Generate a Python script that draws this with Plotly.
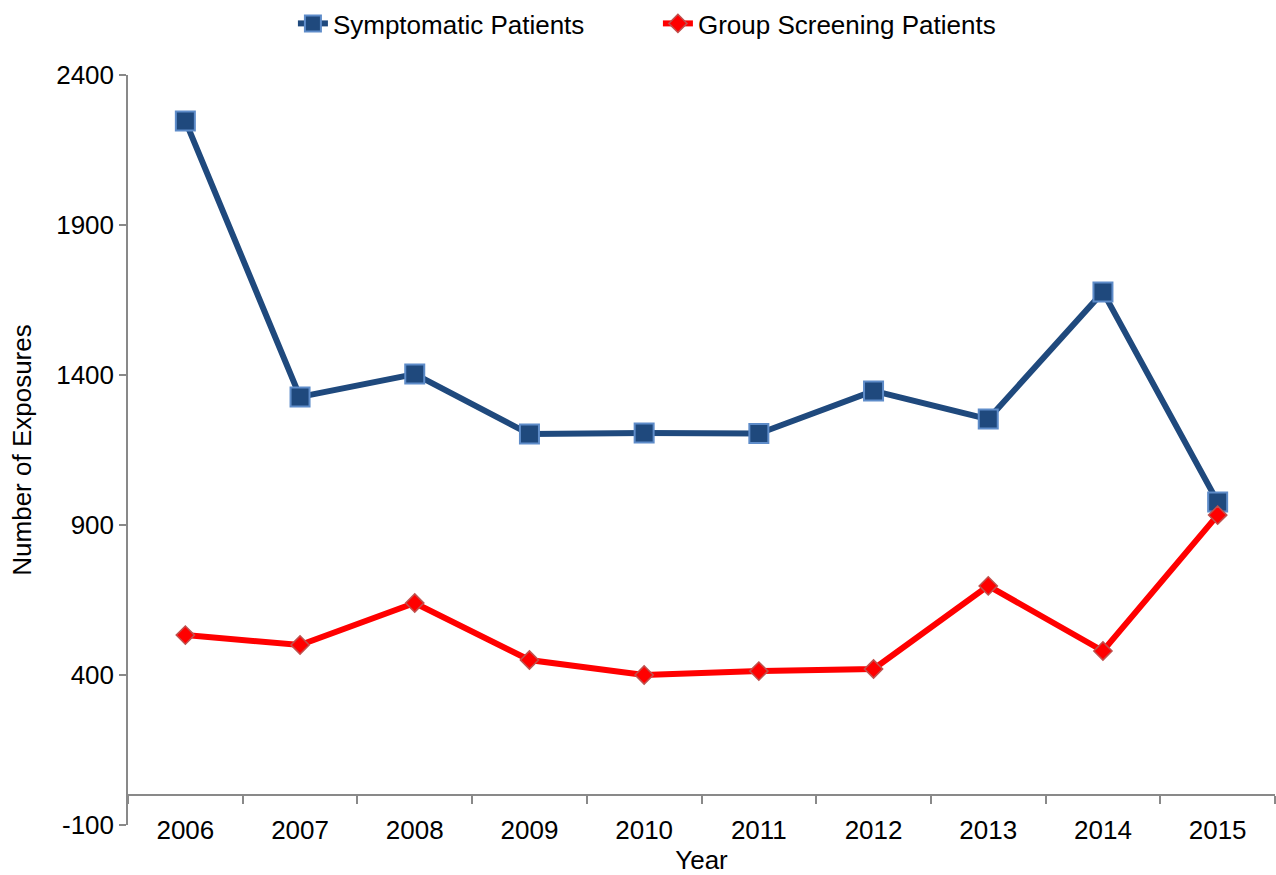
import plotly.graph_objects as go

years = ["2006", "2007", "2008", "2009", "2010", "2011", "2012", "2013", "2014", "2015"]
symptomatic = [2247, 1327, 1403, 1203, 1207, 1205, 1347, 1253, 1677, 977]
group_screening = [533, 500, 640, 450, 400, 413, 420, 697, 480, 933]

y_ticks = [-100, 400, 900, 1400, 1900, 2400]
y_tick_text = ["-100", "400", "900", "1400", "1900", "2400"]
y_min, y_max = -100, 2400

FONT = "Liberation Sans, Arial, sans-serif"
AXIS_GRAY = "#898989"
FS = 26

fig = go.Figure()

fig.add_trace(go.Scatter(
    x=years, y=symptomatic, name="Symptomatic Patients",
    mode="lines+markers",
    line=dict(color="#1F497D", width=6),
    marker=dict(symbol="square", size=19, color="#1F497D",
                line=dict(color="#5E8CC9", width=2)),
))

fig.add_trace(go.Scatter(
    x=years, y=group_screening, name="Group Screening Patients",
    mode="lines+markers",
    line=dict(color="#FF0000", width=6),
    marker=dict(symbol="diamond", size=14, color="#FF0000",
                line=dict(color="#C0504D", width=1.5)),
))

# x axis line sits at y = 0 inside the plotting area
zero_pos = (0 - y_min) / (y_max - y_min)

fig.update_layout(
    width=1276, height=875,
    margin=dict(l=128, r=1, t=75, b=50),
    paper_bgcolor="white", plot_bgcolor="white",
    font=dict(family=FONT, size=FS, color="black"),
    showlegend=True,
    legend=dict(orientation="h", x=0.462, xanchor="center", y=1.0, yanchor="top",
                yref="container", font=dict(size=FS), entrywidth=320,
                traceorder="normal", bgcolor="rgba(0,0,0,0)"),
    xaxis=dict(
        type="category", range=[-0.5, len(years) - 0.5], anchor="free", position=zero_pos,
        showline=True, linecolor=AXIS_GRAY, linewidth=1.5,
        ticks="outside", tickson="boundaries", ticklen=8, tickcolor=AXIS_GRAY, tickwidth=1.5,
        ticklabelstandoff=12, showgrid=False, zeroline=False,
        title=dict(text="Year", standoff=8, font=dict(size=FS)),
        tickfont=dict(size=FS),
    ),
    yaxis=dict(
        range=[y_min, y_max], tickvals=y_ticks, ticktext=y_tick_text,
        showline=True, linecolor=AXIS_GRAY, linewidth=1.5,
        ticks="outside", ticklen=7, tickcolor=AXIS_GRAY, tickwidth=1.5,
        showgrid=False, zeroline=False,
        title=dict(text="Number of Exposures", standoff=17, font=dict(size=FS)),
        tickfont=dict(size=FS),
    ),
)

fig.write_html("out.html")
